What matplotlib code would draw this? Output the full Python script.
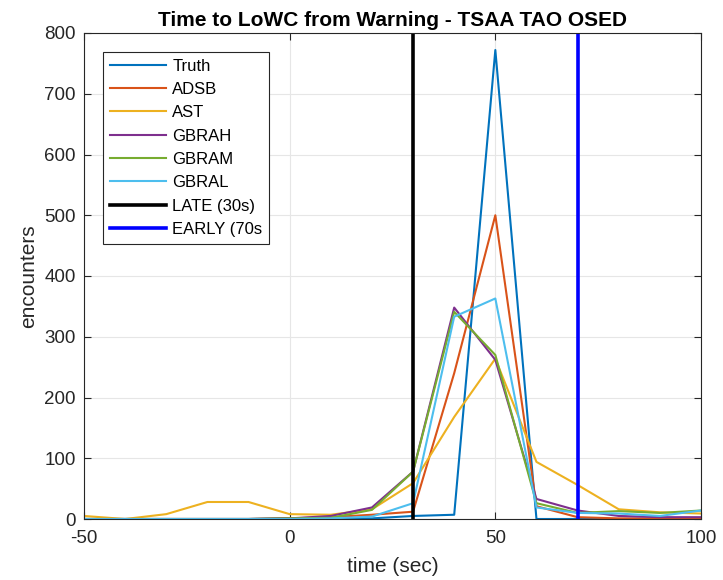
import matplotlib
matplotlib.use("Agg")
import matplotlib.pyplot as plt

plt.rcParams['font.family'] = ['Liberation Sans', 'DejaVu Sans']
plt.rcParams['axes.unicode_minus'] = False

t = [-50, -40, -30, -20, -10, 0, 10, 20, 30, 40, 50, 60, 70, 80, 90, 100]
truth = [0, 0, 0, 0, 0, 1, 1, 1, 5, 7, 772, 0, 0, 0, 0, 0]
adsb  = [0, 0, 0, 0, 0, 1, 3, 7, 12, 240, 500, 21, 3, 1, 1, 1]
ast   = [5, 0, 8, 28, 28, 8, 7, 16, 59, 168, 264, 94, 56, 16, 11, 9]
gbrah = [0, 0, 0, 0, 0, 1, 5, 19, 78, 348, 262, 33, 14, 5, 3, 3]
gbram = [0, 0, 0, 0, 0, 1, 2, 15, 78, 341, 270, 26, 10, 13, 10, 14]
gbral = [0, 0, 0, 0, 0, 0, 1, 4, 26, 333, 363, 19, 10, 9, 5, 14]

names = ['Truth', 'ADSB', 'AST', 'GBRAH', 'GBRAM', 'GBRAL']
colors = ['#0072BD', '#D95319', '#EDB120', '#7E2F8E', '#77AC30', '#4DBEEE']
late_t = 30
early_t = 70

fig = plt.figure(figsize=(7.23, 5.8), dpi=100)
ax = fig.add_axes([84/723, 1-519/580, 617/723, 486/580])

for ys, nm, c in zip([truth, adsb, ast, gbrah, gbram, gbral], names, colors):
    ax.plot(t, ys, color=c, lw=1.5, label=nm)
ax.axvline(late_t, color='black', lw=2.6, label='LATE (30s)')
ax.axvline(early_t, color='blue', lw=2.6, label='EARLY (70s')

ax.set_xlim(-50, 100)
ax.set_ylim(0, 800)
ax.set_xticks([-50, 0, 50, 100])
ax.set_yticks(range(0, 801, 100))
ax.grid(True, color='#e6e6e6', lw=0.8)
ax.set_axisbelow(True)
ax.tick_params(direction='in', top=True, right=True, labelsize=13.5,
               length=5, color='#262626', labelcolor='#262626')
ax.tick_params(axis='x', pad=8)
ax.tick_params(axis='y', pad=6)
for s in ax.spines.values():
    s.set_color('#262626')
    s.set_linewidth(0.8)

ax.set_title('Time to LoWC from Warning - TSAA TAO OSED', fontsize=15,
             fontweight='bold', pad=5)
ax.set_xlabel('time (sec)', fontsize=15, color='#262626', labelpad=7)
ax.set_ylabel('encounters', fontsize=15, color='#262626', labelpad=4)

leg = ax.legend(loc='upper left', bbox_to_anchor=(19/617, 1-19/486),
                borderaxespad=0, fontsize=12, handlelength=3.4,
                handletextpad=0.35, fancybox=False, framealpha=1,
                edgecolor='#262626', labelspacing=0.5)
leg.get_frame().set_linewidth(0.8)

fig.savefig('out.png', dpi=100)
